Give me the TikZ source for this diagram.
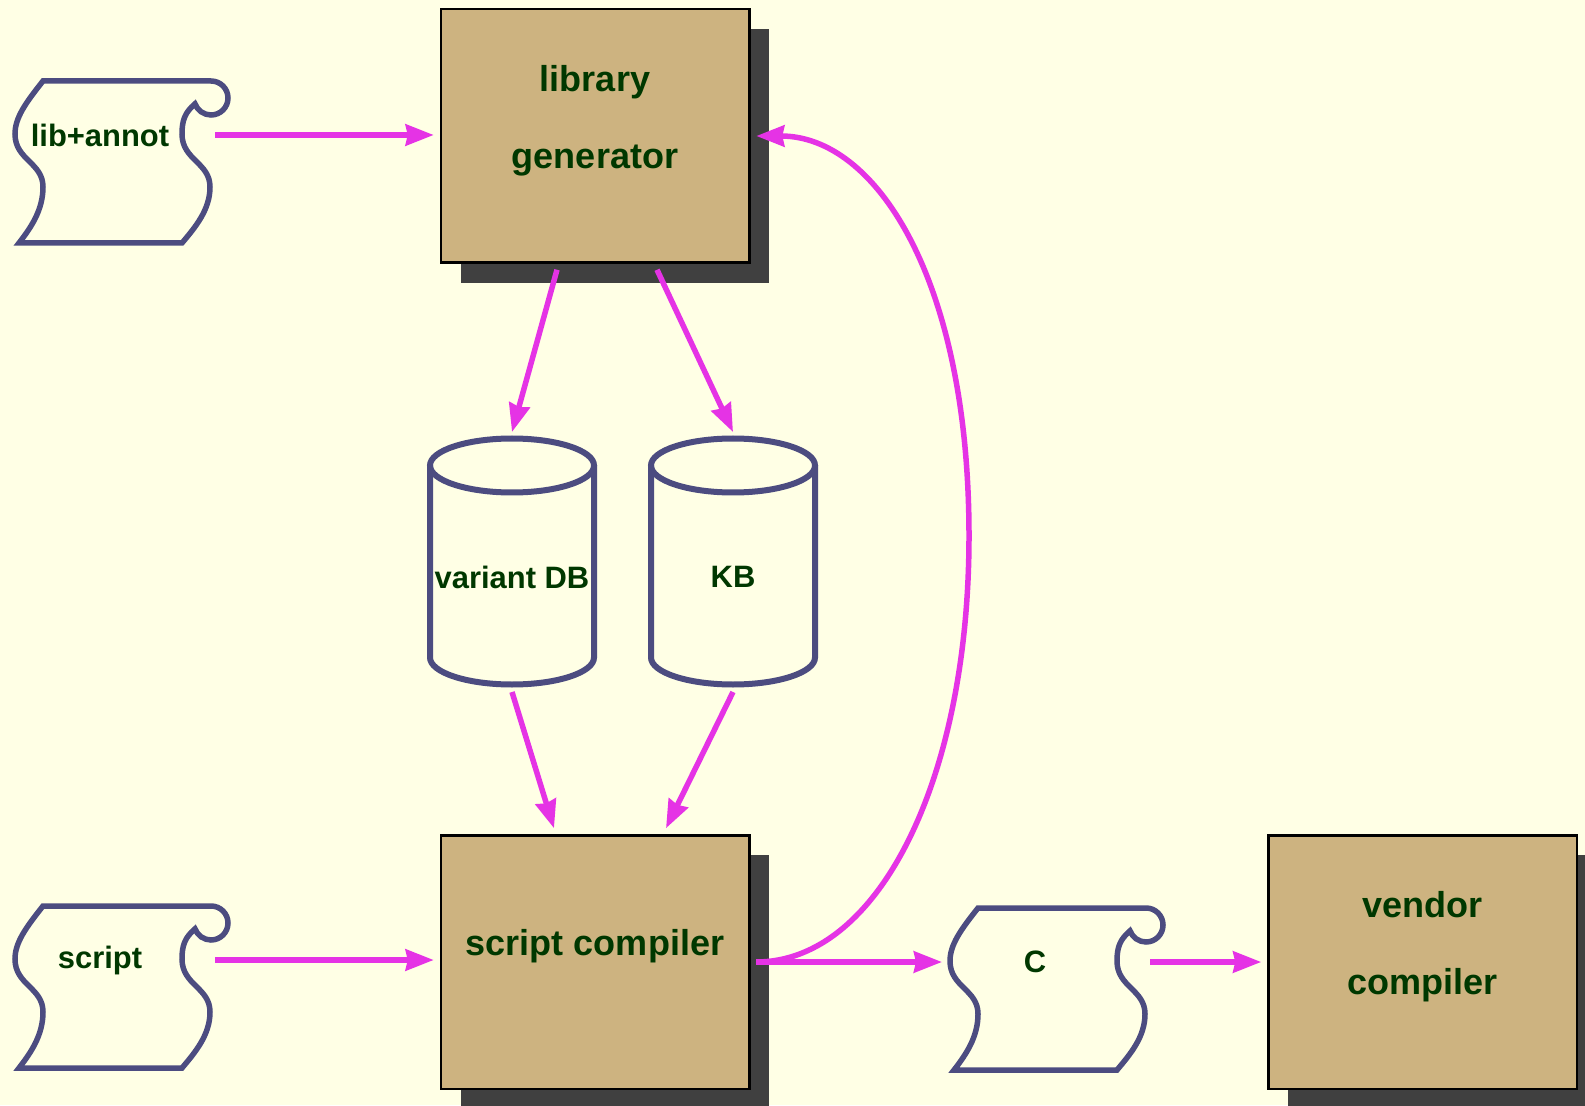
\documentclass[tikz,border=0pt]{standalone}
\usepackage{fontspec}
\setmainfont{Liberation Sans}
\usetikzlibrary{arrows.meta,shadows}

\definecolor{paper}{RGB}{255,255,229}
\definecolor{boxtan}{RGB}{205,179,128}
\definecolor{ink}{RGB}{0,56,0}
\definecolor{slate}{RGB}{76,76,128}
\definecolor{pink}{RGB}{229,51,229}
\definecolor{shade}{RGB}{64,64,64}

% scroll: name, position, text
\newcommand{\drawScroll}[3]{
  \node[doctext] (#1) at (#2) {#3};
  \begin{scope}[shift={(#1.center)}]
    \draw[scrollline] (-1.14,1.08) -- (2.22,1.08)
      arc[start angle=90, end angle=-160, radius=0.34]
      .. controls (1.70,0.45) and (1.64,0.30) .. (1.64,0.02)
      .. controls (1.64,-0.50) and (2.20,-0.55) .. (2.20,-1.04)
      .. controls (2.20,-1.50) and (1.90,-1.85) .. (1.64,-2.16)
      -- (-1.62,-2.16)
      .. controls (-1.38,-1.85) and (-1.14,-1.50) .. (-1.14,-1.04)
      .. controls (-1.14,-0.55) and (-1.70,-0.50) .. (-1.70,0.02)
      .. controls (-1.70,0.35) and (-1.48,0.65) .. cycle;
    \coordinate (#1In) at (-1.86,0);
    \coordinate (#1Out) at (2.30,0);
  \end{scope}
}
% database drum: name, position, text
\newcommand{\drawDrum}[3]{
  \node[doctext] (#1) at (#2) {#3};
  \begin{scope}[shift={(#1.center)}]
    \draw[drumline] (0,2.23) ellipse[x radius=1.64, y radius=0.54];
    \draw[drumline] (-1.64,2.23) -- (-1.64,-1.61)
      arc[start angle=180, end angle=360, x radius=1.64, y radius=0.54] -- (1.64,2.23);
    \coordinate (#1Top) at (0,2.90);
    \coordinate (#1Bot) at (0,-2.30);
  \end{scope}
}

\begin{document}
\begin{tikzpicture}[
    box/.style={draw=black, line width=0.05cm, fill=boxtan, minimum width=6.17cm,
      minimum height=5.07cm, outer sep=0.14cm,
      drop shadow={shadow xshift=0.4cm, shadow yshift=-0.4cm, fill=shade, opacity=1}},
    boxtext/.style={text=ink, align=center, font=\fontsize{20.5}{43.8}\selectfont\bfseries},
    doctext/.style={text=ink, font=\fontsize{17.6}{21}\selectfont\bfseries},
    scrollline/.style={draw=slate, line width=0.11cm},
    drumline/.style={draw=slate, line width=0.12cm},
    flow/.style={draw=pink, line width=0.11cm, -{Stealth[length=0.56cm, width=0.42cm, inset=0.04cm]}}]
  \useasboundingbox (0,0) rectangle (31.7,22.1);
  \fill[paper] (0,0) rectangle (31.7,22.1);

  % Nodes
  \node[box] (libgen) at (11.90,19.38) {};
  \node[boxtext] (libgenText) at ([yshift=0.31cm]libgen.center) {library\\generator};
  \node[box] (compiler) at (11.90,2.86) {};
  \node[boxtext] (compilerText) at ([yshift=0.32cm]compiler.center) {script compiler};
  \node[box] (vendor) at (28.45,2.86) {};
  \node[boxtext] (vendorText) at ([yshift=0.31cm]vendor.center) {vendor\\compiler};

  \drawScroll{libannot}{2.00,19.40}{lib+annot}
  \drawScroll{script}{2.00,2.90}{script}
  \drawScroll{cfile}{20.70,2.86}{C}
  \drawDrum{variants}{10.24,10.56}{variant DB}
  \drawDrum{kb}{14.66,10.56}{KB}

  % Edges
  \draw[flow] (libannotOut) -- (libannotOut -| libgen.west);
  \draw[flow] (scriptOut) -- (scriptOut -| compiler.west);
  \draw[flow] ([xshift=-0.76cm]libgen.south) -- (variantsTop);
  \draw[flow] ([xshift=1.24cm]libgen.south) -- (kbTop);
  \draw[flow] (variantsBot) -- ([xshift=-0.82cm]compiler.north);
  \draw[flow] (kbBot) -- ([xshift=1.42cm]compiler.north);
  \draw[flow] (compiler.east) -- (cfileIn);
  \draw[flow] (cfileOut) -- (cfileOut -| vendor.west);
  \draw[flow] (compiler.east) .. controls +(2.44,0) and +(0,-4.88) .. (19.38,11.38)
    .. controls +(0,5.12) and +(2.4,0) .. (libgen.east);

\end{tikzpicture}
\end{document}
